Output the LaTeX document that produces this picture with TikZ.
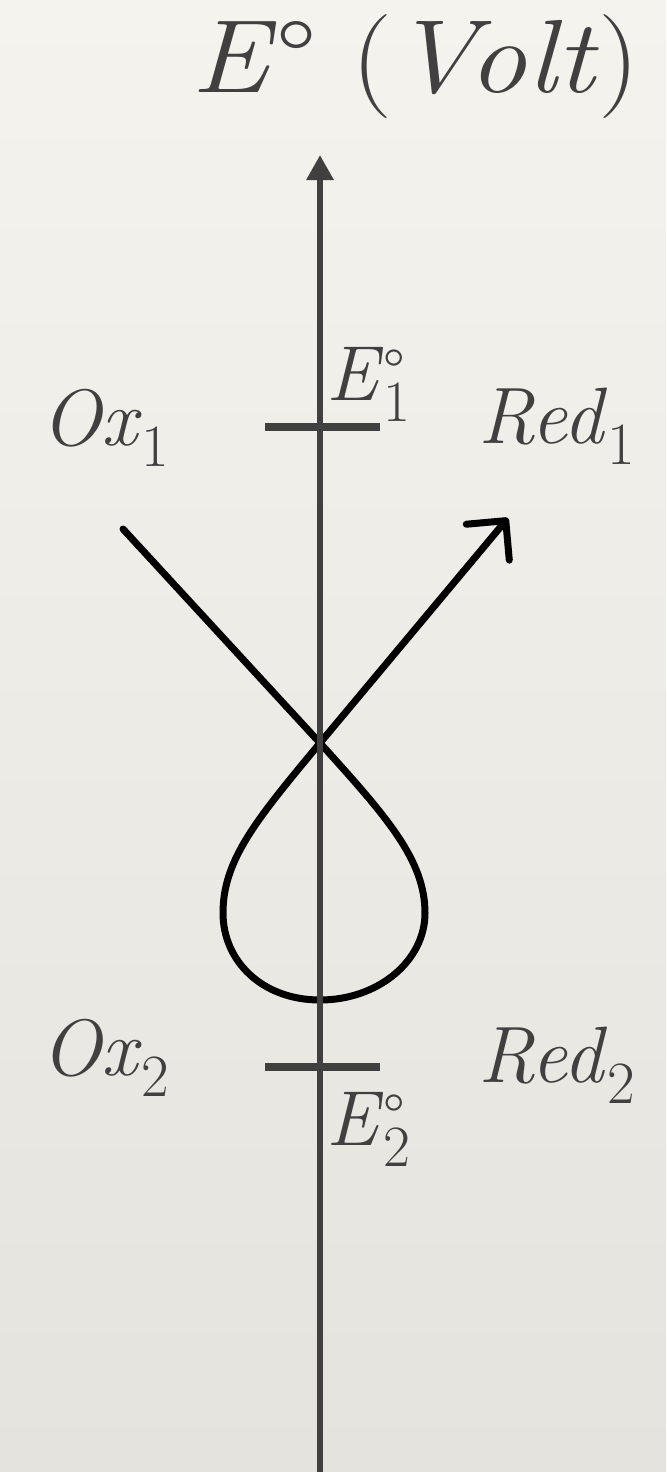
\documentclass[tikz,border=0pt]{standalone}
\usepackage{graphicx}
\usetikzlibrary{arrows.meta}
\definecolor{paper}{RGB}{245,243,238}
\definecolor{paperlow}{RGB}{229,227,222}
\definecolor{ink}{RGB}{64,64,64}
\newcommand{\subs}[1]{\raisebox{-.27em}{\scalebox{.75}{#1}}}
\newcommand{\potl}[1]{\textit{E}\rlap{\raisebox{.1em}{\scalebox{.8}{\textdegree}}}\subs{#1}}
\tikzset{
  axisline/.style={ink, line width=3pt},
  level/.style={ink, line width=4pt},
  species/.style={text=ink, font=\fontsize{40}{40}\selectfont, inner sep=0pt, anchor=base west},
  potential/.style={text=ink, font=\fontsize{39}{39}\selectfont, inner sep=0pt, anchor=base west},
  route/.style={black, line width=3.5pt, line cap=round, line join=round,
                -{Straight Barb[length=14pt,width=28pt,round]}},
}
\begin{document}
\begin{tikzpicture}[x=0.5pt, y=-0.5pt]
  % paper
  \shade[top color=paper, bottom color=paperlow] (0,0) rectangle (666,1472);
  \useasboundingbox (0,0) rectangle (666,1472);

  % redox path with the loop
  \coordinate (ox) at (123,529);
  \coordinate (cross) at (320,743);
  \coordinate (loopR) at (425,913);
  \coordinate (loopB) at (320,1000);
  \coordinate (loopL) at (223,913);
  \coordinate (red) at (508,518);
  \draw[route] (ox) -- (cross)
    .. controls (387,817) and (425,860) .. (loopR)
    .. controls (425,961) and (378,1000) .. (loopB)
    .. controls (262,1000) and (223,961) .. (loopL)
    .. controls (223,860) and (256,820) .. (cross) -- (red);

  % potential axis
  \coordinate (base) at (320,1472);
  \coordinate (top) at (320,155);
  \draw[axisline, -{Triangle[length=12.5pt,width=13pt]}] (base) -- (top);
  \node[text=ink, font=\fontsize{52}{52}\selectfont, inner sep=0pt, anchor=base west]
    (axislabel) at (191,92) {\scalebox{1.12}[1]{\textit{E}\textdegree\hspace{.3em}(\textit{Volt})}};

  % levels
  \coordinate (lvl1w) at (265,427);
  \coordinate (lvl1e) at (380,427);
  \coordinate (lvl2w) at (265,1067);
  \coordinate (lvl2e) at (380,1067);
  \draw[level] (lvl1w) -- (lvl1e);
  \draw[level] (lvl2w) -- (lvl2e);
  \node[potential] (e1) at (326,400) {\potl{1}};
  \node[potential] (e2) at (326,1145) {\potl{2}};

  % couples
  \node[species] (ox1) at (41,445) {\textit{Ox}\subs{1}};
  \node[species] (red1) at (478,443) {\textit{Red}\subs{1}};
  \node[species] (ox2) at (41,1075) {\textit{Ox}\subs{2}};
  \node[species] (red2) at (478,1082) {\textit{Red}\subs{2}};
\end{tikzpicture}
\end{document}
